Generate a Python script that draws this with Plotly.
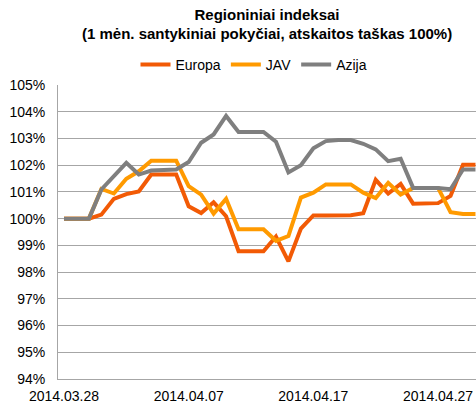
import pandas as pd
import plotly.graph_objects as go

# --- data (relative 1-month change, base 100% on 2014.03.28) ---
dates = pd.date_range("2014-03-28", "2014-04-30", freq="D")

europa = [100.0, 100.0, 100.0, 100.15, 100.74, 100.92, 101.02, 101.65, 101.65, 101.65,
          100.46, 100.21, 100.61, 100.09, 98.78, 98.78, 98.78, 99.33, 98.40, 99.63,
          100.12, 100.12, 100.12, 100.13, 100.2, 101.45, 100.94, 101.3, 100.56, 100.56,
          100.58, 100.85, 102.02, 102.02]

jav = [100.0, 100.0, 100.0, 101.11, 100.94, 101.49, 101.77, 102.17, 102.17, 102.17,
       101.22, 100.9, 100.19, 100.74, 99.6, 99.6, 99.6, 99.17, 99.35, 100.79,
       100.97, 101.28, 101.28, 101.28, 100.97, 100.77, 101.34, 100.9, 101.15, 101.15,
       101.15, 100.24, 100.17, 100.17]

azija = [100.0, 100.0, 100.0, 101.09, 101.59, 102.09, 101.65, 101.8, 101.82, 101.84,
         102.12, 102.84, 103.15, 103.84, 103.24, 103.24, 103.24, 102.88, 101.73, 102.0,
         102.63, 102.9, 102.94, 102.94, 102.8, 102.59, 102.15, 102.24, 101.15, 101.15,
         101.15, 101.1, 101.84, 101.84]

series_names = ["Europa", "JAV", "Azija"]
series_colors = ["#F25A05", "#FF9A00", "#7F7F7F"]

tick_dates = ["2014-03-28", "2014-04-07", "2014-04-17", "2014-04-27"]
tick_labels = ["2014.03.28", "2014.04.07", "2014.04.17", "2014.04.27"]

title_line1 = "Regioniniai indeksai"
title_line2 = "(1 mėn. santykiniai pokyčiai, atskaitos taškas 100%)"

FONT = "Liberation Sans, Arial, sans-serif"

W, H = 476, 406
M_T, M_B = 85, 27
plot_h = H - M_T - M_B

fig = go.Figure()
for name, vals, col in zip(series_names, [europa, jav, azija], series_colors):
    fig.add_trace(go.Scatter(
        x=dates, y=vals, mode="lines", name=name,
        line=dict(color=col, width=4),
    ))

fig.update_layout(
    width=W, height=H,
    margin=dict(l=58, r=0, t=M_T, b=M_B, autoexpand=False),
    paper_bgcolor="white", plot_bgcolor="white",
    font=dict(family=FONT, size=14, color="#000000"),
    title=dict(
        text=f"<b>{title_line1}</b>",
        font=dict(family=FONT, size=15, color="#000000"),
        x=0.5, xref="paper", xanchor="center",
        y=1 - 15 / H, yref="container", yanchor="middle",
    ),
    annotations=[dict(
        text=f"<b>{title_line2}</b>",
        font=dict(family=FONT, size=15, color="#000000"),
        x=0.5, xref="paper", xanchor="center",
        y=(H - M_B - 34) / plot_h, yref="paper", yanchor="middle",
        showarrow=False,
    )],
    legend=dict(
        orientation="h",
        xref="container", yref="container",
        x=254 / W, xanchor="center",
        y=1 - 65 / H, yanchor="middle",
        font=dict(family=FONT, size=14, color="#000000"),
        itemwidth=30,
        bgcolor="rgba(0,0,0,0)",
    ),
    showlegend=True,
)

fig.update_xaxes(
    type="date",
    range=["2014-03-27 12:30", "2014-04-30 01:00"],
    tickvals=tick_dates, ticktext=tick_labels,
    showgrid=False, showline=True, linecolor="#A6A6A6", linewidth=1,
    ticks="", ticklabelstandoff=4,
    tickfont=dict(family=FONT, size=14, color="#000000"),
    zeroline=False,
)
fig.update_yaxes(
    range=[94, 105], dtick=1, tick0=94, ticksuffix="%",
    showgrid=True, gridcolor="#A6A6A6", gridwidth=1,
    showline=True, linecolor="#A6A6A6", linewidth=1,
    ticks="", ticklabelstandoff=9,
    tickfont=dict(family=FONT, size=14, color="#000000"),
    zeroline=False,
)

fig.write_html("out.html", config={"displayModeBar": False},
               post_script="document.body.style.margin='0';")
